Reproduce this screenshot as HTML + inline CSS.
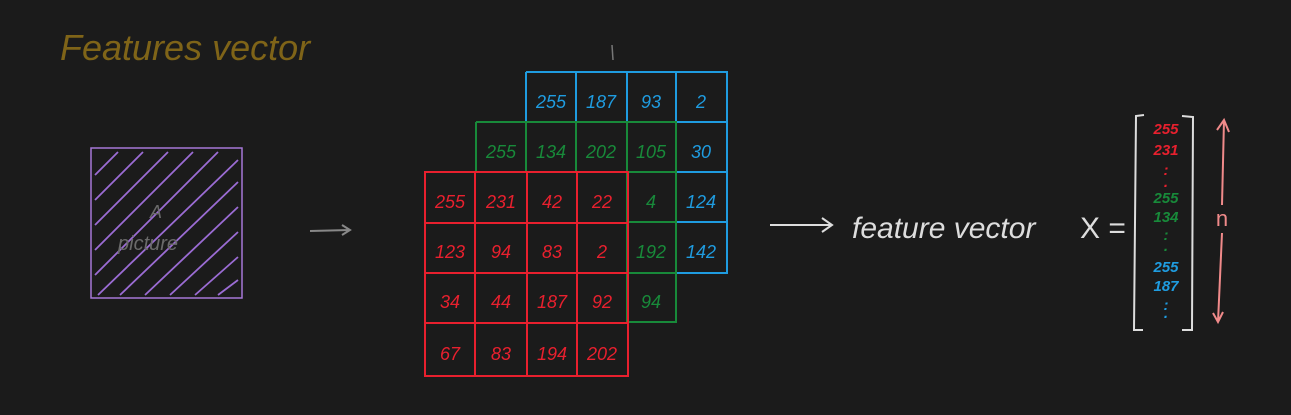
<!DOCTYPE html>
<html><head><meta charset="utf-8"><style>
html,body{margin:0;padding:0;background:#1b1b1b;}
svg{display:block;}
text{font-family:"Liberation Sans",sans-serif;font-style:italic;}
text.up{font-style:normal;}
</style></head><body>
<svg width="1291" height="415" viewBox="0 0 1291 415">
<rect width="1291" height="415" fill="#1b1b1b"/>
<text x="60" y="60" font-size="36" fill="#7f6418">Features vector</text>

<g>
<rect x="91" y="148" width="151" height="150" fill="none" stroke="#a678d8" stroke-width="1.5"/>
<g stroke="#9b6cd4" stroke-width="1.8" fill="none">
<path d="M95 175 L118 152 M95 200 L143 152 M95 225 L168 152 M95 250 L193 152 M95 275 L218 152 M98 295 L238 160 M120 295 L238 182 M145 295 L238 207 M170 295 L238 232 M195 295 L238 257 M218 295 L238 280"/>
</g>
<text x="150" y="218" font-size="18" fill="#6a6a6a">A</text>
<text x="118" y="250" font-size="20" fill="#6a6a6a">picture</text>
</g>
<g stroke="#888" stroke-width="2" fill="none">
<path d="M310 231 L350 230 M342 225 L350 230 L342 235"/>
</g>

<g stroke="#1f9ce0" stroke-width="2" fill="none">
<path d="M526 72 L727 72 L727 273 L676 273 M526 72 L526 122 M576 72 L576 122 M627 72 L627 122 M676 72 L676 273 M526 122 L727 122 M676 172 L727 172 M676 222 L727 222"/>
</g>
<g fill="#1f9ce0" font-size="18" text-anchor="middle">
<text x="551" y="108">255</text><text x="601" y="108">187</text><text x="651" y="108">93</text><text x="701" y="108">2</text>
<text x="701" y="158">30</text><text x="701" y="208">124</text><text x="701" y="258">142</text>
</g>

<g stroke="#188a3a" stroke-width="2" fill="none">
<path d="M476 122 L676 122 L676 322 L627 322 M476 122 L476 172 M526 122 L526 172 M576 122 L576 172 M627 122 L627 322 M627 172 L676 172 M627 222 L676 222 M627 273 L676 273"/>
</g>
<g fill="#188a3a" font-size="18" text-anchor="middle">
<text x="501" y="158">255</text><text x="551" y="158">134</text><text x="601" y="158">202</text><text x="651" y="158">105</text>
<text x="651" y="208">4</text><text x="651" y="258">192</text><text x="651" y="308">94</text>
</g>

<g stroke="#e8202e" stroke-width="2" fill="none">
<rect x="425" y="172" width="203" height="204"/>
<path d="M475 172 V376 M527 172 V376 M577 172 V376 M425 223 H628 M425 273 H628 M425 323 H628"/>
</g>
<g fill="#e8202e" font-size="18" text-anchor="middle">
<text x="450" y="208">255</text><text x="501" y="208">231</text><text x="552" y="208">42</text><text x="602" y="208">22</text>
<text x="450" y="258">123</text><text x="501" y="258">94</text><text x="552" y="258">83</text><text x="602" y="258">2</text>
<text x="450" y="308">34</text><text x="501" y="308">44</text><text x="552" y="308">187</text><text x="602" y="308">92</text>
<text x="450" y="360">67</text><text x="501" y="360">83</text><text x="552" y="360">194</text><text x="602" y="360">202</text>
</g>
<path d="M612 45 L613 60" stroke="#777" stroke-width="1.5"/>

<g stroke="#ddd" stroke-width="2" fill="none">
<path d="M770 225 L832 225 M822 218 L832 225 L822 232"/>
</g>
<text x="852" y="238" font-size="30" fill="#ddd">feature vector</text>
<text x="1080" y="238" font-size="30" fill="#ddd" class="up">X =</text>

<g stroke="#ddd" stroke-width="2" fill="none">
<path d="M1144 115 L1136 116 L1134 330 L1143 330 M1182 116 L1193 117 L1192 330 L1182 330"/>
</g>
<g font-size="15" text-anchor="middle" font-weight="bold">
<text x="1166" y="134" fill="#e8202e">255</text><text x="1166" y="155" fill="#e8202e">231</text>
<text x="1166" y="175" fill="#e8202e">:</text><text x="1166" y="187" fill="#e8202e">.</text>
<text x="1166" y="203" fill="#188a3a">255</text><text x="1166" y="222" fill="#188a3a">134</text>
<text x="1166" y="240" fill="#188a3a">:</text><text x="1166" y="251" fill="#188a3a">.</text>
<text x="1166" y="272" fill="#1f9ce0">255</text><text x="1166" y="291" fill="#1f9ce0">187</text>
<text x="1166" y="310" fill="#1f9ce0">:</text><text x="1166" y="318" fill="#1f9ce0">.</text>
</g>
<g stroke="#f08a8a" stroke-width="2" fill="none">
<path d="M1224 120 L1222 205 M1222 233 L1218 322 M1217 130 L1224 120 L1229 132 M1213 313 L1218 322 L1223 312"/>
</g>
<text x="1222" y="226" font-size="22" fill="#f08a8a" text-anchor="middle" class="up">n</text>
</svg>
</body></html>
